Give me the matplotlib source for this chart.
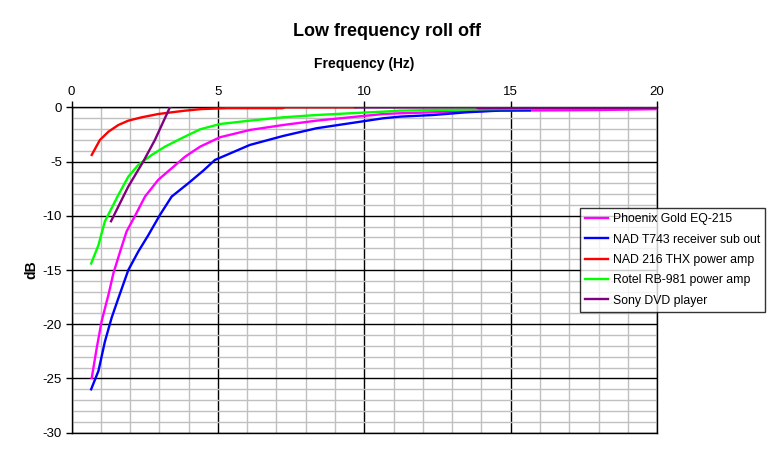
import matplotlib
matplotlib.use("Agg")
import matplotlib.pyplot as plt
from matplotlib.ticker import MultipleLocator

plt.rcParams['font.family'] = ['Liberation Sans', 'DejaVu Sans']
plt.rcParams['axes.unicode_minus'] = False

# ---------------------------
# DATA
# ---------------------------
phoenix_hz = [0.69, 0.86, 1.03, 1.26, 1.43, 1.66, 1.88, 2.17, 2.51, 2.96, 3.42, 3.88, 4.39,
              5.07, 6.09, 7.23, 8.37, 9.51, 10.65, 11.2, 12.35, 14.63, 16.5, 18.0, 20.0]
phoenix_db = [-24.95, -22.2, -19.7, -17.3, -15.3, -13.3, -11.45, -10.0, -8.23, -6.69, -5.62,
              -4.55, -3.63, -2.76, -2.09, -1.63, -1.23, -0.92, -0.62, -0.55, -0.46, -0.3,
              -0.28, -0.25, -0.17]

nad743_hz = [0.67, 0.92, 1.14, 1.37, 1.60, 1.94, 2.28, 2.62, 3.02, 3.42, 3.99, 4.5, 4.9,
             6.09, 7.23, 8.37, 9.51, 10.65, 11.22, 12.35, 13.49, 14.63, 15.65]
nad743_db = [-26.0, -24.3, -21.6, -19.4, -17.6, -15.0, -13.3, -11.8, -9.92, -8.23, -7.0,
             -5.84, -4.85, -3.47, -2.64, -1.93, -1.47, -1.01, -0.86, -0.71, -0.46, -0.3, -0.28]

nad216_hz = [0.69, 0.97, 1.26, 1.60, 1.94, 2.40, 2.96, 3.42, 3.88, 4.45, 5.3, 7.2, 7.3, 9.7]
nad216_db = [-4.39, -3.01, -2.25, -1.63, -1.23, -0.92, -0.62, -0.46, -0.31, -0.16, -0.08,
             -0.08, 0.0, 0.0]

rotel_hz = [0.67, 0.92, 1.14, 1.20, 1.60, 1.94, 2.28, 2.74, 3.19, 3.76, 4.39, 5.07, 6.09,
            7.23, 8.37, 9.51, 10.65, 11.2, 12.35, 14.63, 17.0, 20.0]
rotel_db = [-14.4, -12.7, -10.5, -10.2, -8.07, -6.39, -5.31, -4.39, -3.63, -2.85, -2.03,
            -1.54, -1.23, -0.92, -0.71, -0.55, -0.4, -0.31, -0.25, -0.16, -0.12, -0.1]

sony_hz = [1.35, 1.94, 2.45, 2.85, 3.36, 3.6, 9.4, 9.7, 13.8, 13.9, 20.0]
sony_db = [-10.5, -7.3, -5.0, -3.0, 0.0, 0.4, 0.4, 0.0, 0.0, -0.08, -0.08]

series = [
    ("Phoenix Gold EQ-215", phoenix_hz, phoenix_db, "#FF00FF"),
    ("NAD T743 receiver sub out", nad743_hz, nad743_db, "#0000FF"),
    ("NAD 216 THX power amp", nad216_hz, nad216_db, "#FF0000"),
    ("Rotel RB-981 power amp", rotel_hz, rotel_db, "#00FF00"),
    ("Sony DVD player", sony_hz, sony_db, "#800080"),
]

fig = plt.figure(figsize=(7.74, 4.58), dpi=100)
ax = fig.add_axes([0.0924, 0.0552, 0.7566, 0.7105])

for name, xs, ys, col in series:
    ax.plot(xs, ys, color=col, lw=1.7, label=name, zorder=3)

ax.set_xlim(0, 20)
ax.set_ylim(-30, 0)

# grid: gray every 1, black every 5
ax.xaxis.set_major_locator(MultipleLocator(5))
ax.xaxis.set_minor_locator(MultipleLocator(1))
ax.yaxis.set_major_locator(MultipleLocator(5))
ax.yaxis.set_minor_locator(MultipleLocator(1))
ax.grid(which="minor", color="#C0C0C0", lw=1.0, zorder=0)
ax.grid(which="major", color="black", lw=1.0, zorder=1)
ax.set_axisbelow(True)

ax.xaxis.tick_top()
ax.xaxis.set_label_position("top")
ax.tick_params(which="minor", length=0)
ax.tick_params(which="major", length=4, width=1, labelsize=9.5, color="black", pad=3)
for s in ax.spines.values():
    s.set_color("black")
    s.set_linewidth(1.0)

ax.set_xlabel("Frequency (Hz)", fontsize=10, fontweight="bold", labelpad=13)
ax.set_ylabel("dB", fontsize=10, fontweight="bold", labelpad=3)

fig.suptitle("Low frequency roll off", fontsize=13, fontweight="bold", y=0.95)

leg = ax.legend(loc="upper left", bbox_to_anchor=(0.749, 0.546), bbox_transform=fig.transFigure,
                fontsize=8.8, frameon=True, fancybox=False, edgecolor="black",
                handlelength=1.9, handletextpad=0.35, borderpad=0.45, labelspacing=0.68,
                borderaxespad=0)
leg.get_frame().set_linewidth(1.0)
leg.set_zorder(5)

fig.savefig("out.png", dpi=100)
